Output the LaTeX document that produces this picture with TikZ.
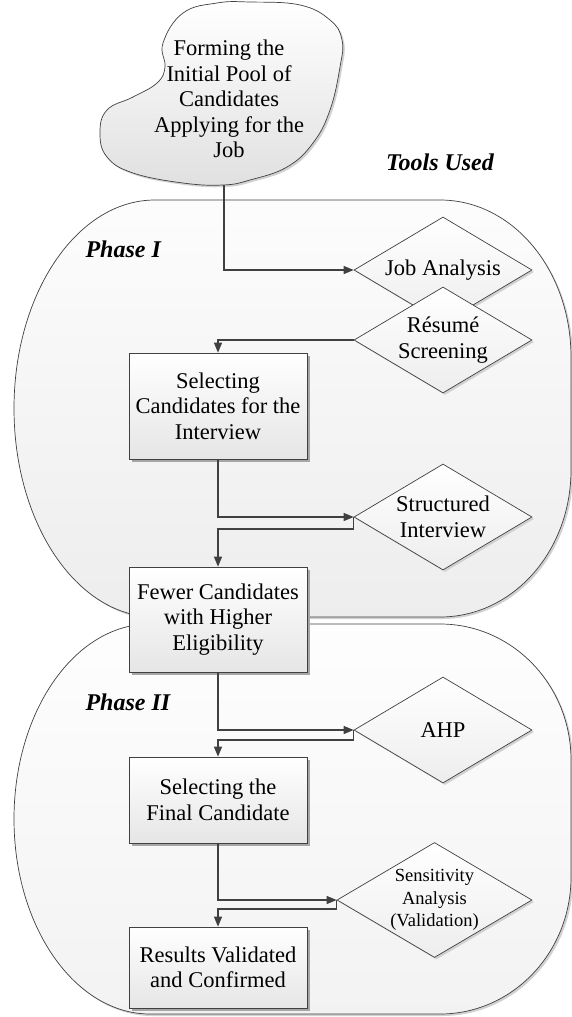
\documentclass[tikz,border=0pt]{standalone}
\usepackage{fontspec}
\setmainfont{Liberation Serif}
\usetikzlibrary{shapes.geometric,shadows,arrows.meta}
\begin{document}
\begin{tikzpicture}[x=1pt,y=-1pt,
  outl/.style={draw=black!75, line width=0.7pt},
  shad/.style={drop shadow={shadow xshift=2.5pt,shadow yshift=-2.5pt,fill=black!35,opacity=1}},
  lshad/.style={drop shadow={shadow xshift=2pt,shadow yshift=-2pt,fill=black!18,opacity=1}},
  phaseA/.style={outl, top color=black!1, bottom color=black!7, lshad},
  phaseB/.style={outl, top color=black!0.5, bottom color=black!5, lshad},
  txt/.style={font=\fontsize{22.5}{25.5}\selectfont, align=center},
  boxn/.style={txt, rectangle, outl, top color=white, bottom color=black!10, minimum width=178pt, inner sep=0pt, shad},
  dia/.style={txt, diamond, outl, top color=white, bottom color=black!7, aspect=1.68, inner sep=0pt, minimum width=178pt, minimum height=106pt, lshad},
  conn/.style={draw=black!75, line width=1.2pt, -{Triangle[length=10pt,width=8pt]}},
  lab/.style={font=\fontsize{24}{28}\selectfont\bfseries\itshape}
]
\useasboundingbox (0,0) rectangle (572,1017);
\fill[white] (0,0) rectangle (572,1017);

% Phase I region
\path[phaseA] (155,200) -- (440,200)
  .. controls (512.9,200) and (571,270.3) .. (571,357)
  -- (571,470)
  .. controls (571,551.2) and (512.9,617) .. (440,617)
  -- (155,617)
  .. controls (77.1,617) and (14,523.7) .. (14,408.5)
  .. controls (14,293.3) and (77.1,200) .. (155,200) -- cycle;

% Phase II region
\path[phaseB] (150,624) -- (440,624)
  .. controls (512.4,624) and (571,684.9) .. (571,760)
  -- (571,877)
  .. controls (571,952.7) and (512.4,1014) .. (440,1014)
  -- (150,1014)
  .. controls (74.9,1014) and (14,926.7) .. (14,819)
  .. controls (14,711.3) and (74.9,624) .. (150,624) -- cycle;

% Start bean shape
\path[outl, top color=white, bottom color=black!12, lshad] plot[smooth cycle, tension=0.7] coordinates {
  (163,43) (183,13) (217,3) (250,2) (300,5) (330,20) (342,40) (340,67)
  (330,110) (313,143) (287,167) (250,180) (223,185) (183,183) (133,173)
  (107,157) (100,133) (107,110) (133,97) (157,83) (165,67)};
\node[txt] (bean) at (229,99) {Forming the\\Initial Pool of\\Candidates\\Applying for the\\Job};
\coordinate (beanbot) at (224,185);

% Labels
\node[lab, anchor=base] (tools) at (440,170) {Tools Used};
\node[lab, anchor=base west] (p1) at (82,257) {Phase I};
\node[lab, anchor=base west] (p2) at (82,710) {Phase II};

% Process boxes
\node[boxn, minimum height=106pt] (b1) at (218,406) {Selecting\\Candidates for the\\Interview};
\node[boxn, minimum height=105pt] (b2) at (218,619.5) {Fewer Candidates\\with Higher\\Eligibility};
\node[boxn, minimum height=86pt] (b3) at (218,800) {Selecting the\\Final Candidate};
\node[boxn, minimum height=81pt] (b4) at (218,967.5) {Results Validated\\and Confirmed};

% Tool diamonds
\node[dia] (d1) at (443,270) {Job Analysis};
\node[dia] (d2) at (443,340) {Résumé\\Screening};
\node[dia] (d3) at (443,517) {Structured\\Interview};
\node[dia] (d4) at (443,730) {AHP};
\node[dia, minimum width=195pt, minimum height=115pt, aspect=1.7, font=\fontsize{18.5}{22.5}\selectfont] (d5) at (434.5,900) {Sensitivity\\Analysis\\(Validation)};

% Connectors
\draw[conn] (beanbot) |- (d1.west);
\draw[conn] (d2.west) -| (b1.north);
\draw[conn] (b1.south) |- (d3.west);
\draw[conn] (d3.west) -- ++(0,12) -| (b2.north);
\draw[conn] (b2.south) |- (d4.west);
\draw[conn] (d4.west) -- ++(0,10) -| (b3.north);
\draw[conn] (b3.south) |- (d5.west);
\draw[conn] (d5.west) -- ++(0,9) -| (b4.north);
\end{tikzpicture}
\end{document}
